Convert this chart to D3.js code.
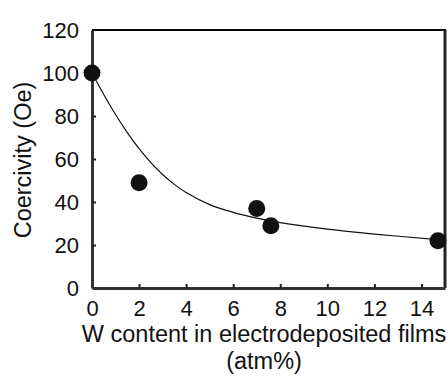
<!DOCTYPE html>
<html>
<head>
<meta charset="utf-8">
<script src="https://cdn.jsdelivr.net/npm/d3@7"></script>
<style>
  body { margin: 0; background: #fff; }
  text { font-family: "Liberation Sans", Arial, sans-serif; fill: #111; }
</style>
</head>
<body>
<div class="chart"></div>
<script>
// data
var wContent = [0, 2, 7, 7.6, 14.7];
var coercivity = [100, 49, 37, 29, 22];

// fitted trend line, sampled by eye
var fitX = [0, 0.5, 1, 1.5, 2, 2.5, 3, 3.5, 4, 5, 6, 7, 8, 10, 12, 14.7];
var fitY = [100, 90, 80.7, 72.3, 64.8, 58.3, 52.8, 48.2, 44.4, 38.8, 35.2, 32.5, 30.4, 27.4, 25.1, 22.5];

var xTicks = [0, 2, 4, 6, 8, 10, 12, 14];
var yTicks = [0, 20, 40, 60, 80, 100, 120];

var w = 448, h = 376;
var mLeft = 92, mRight = 445, mTop = 30, mBottom = 288;

var svg = d3.select(".chart")
  .append("svg")
  .attr("width", w)
  .attr("height", h);

var x = d3.scaleLinear().domain([0, 15]).range([mLeft, mRight]);
var y = d3.scaleLinear().domain([0, 120]).range([mBottom, mTop]);

// frame: top and right
svg.append("line")
  .attr("x1", mLeft).attr("x2", mRight + 1)
  .attr("y1", mTop).attr("y2", mTop)
  .attr("stroke", "#000").attr("stroke-width", 2);
svg.append("line")
  .attr("x1", mRight).attr("x2", mRight)
  .attr("y1", mTop).attr("y2", mBottom)
  .attr("stroke", "#222").attr("stroke-width", 3);

// x axis
var xAxis = svg.append("g")
  .attr("transform", "translate(0," + mBottom + ")")
  .call(d3.axisBottom(x).tickValues(xTicks).tickSizeInner(-4).tickSizeOuter(0).tickPadding(12));
xAxis.select(".domain").attr("stroke", "#333").attr("stroke-width", 3);
xAxis.selectAll(".tick line").attr("stroke", "#222").attr("stroke-width", 2)
  .attr("display", function(d) { return d == 0 ? "none" : null; });
xAxis.selectAll("text").style("font-size", "22px").attr("fill", "#1a1a1a");

// y axis
var yAxis = svg.append("g")
  .attr("transform", "translate(" + mLeft + ",0)")
  .call(d3.axisLeft(y).tickValues(yTicks).tickSizeInner(-4).tickSizeOuter(0).tickPadding(13));
yAxis.select(".domain").attr("stroke", "#333").attr("stroke-width", 3);
yAxis.selectAll(".tick line").attr("stroke", "#222").attr("stroke-width", 2)
  .attr("display", function(d) { return (d == 0 || d == 120) ? "none" : null; });
yAxis.selectAll("text").style("font-size", "22px").attr("fill", "#1a1a1a");

// fit curve
var line = d3.line()
  .x(function(d, i) { return x(fitX[i]); })
  .y(function(d, i) { return y(fitY[i]); })
  .curve(d3.curveCatmullRom);

svg.append("path")
  .datum(fitX)
  .attr("d", line)
  .attr("fill", "none")
  .attr("stroke", "#111")
  .attr("stroke-width", 1.2);

// points
svg.selectAll(".pt")
  .data(wContent)
  .enter()
  .append("circle")
  .attr("class", "pt")
  .attr("cx", function(d) { return x(d); })
  .attr("cy", function(d, i) { return y(coercivity[i]); })
  .attr("r", 8.5)
  .attr("fill", "#111");

// titles
svg.append("text")
  .attr("x", 264).attr("y", 342)
  .attr("text-anchor", "middle")
  .style("font-size", "23.5px")
  .text("W content in electrodeposited films");
svg.append("text")
  .attr("x", 264).attr("y", 369)
  .attr("text-anchor", "middle")
  .style("font-size", "23.5px")
  .text("(atm%)");
svg.append("text")
  .attr("transform", "translate(31,160) rotate(-90)")
  .attr("text-anchor", "middle")
  .style("font-size", "23.5px")
  .text("Coercivity (Oe)");
</script>
</body>
</html>
